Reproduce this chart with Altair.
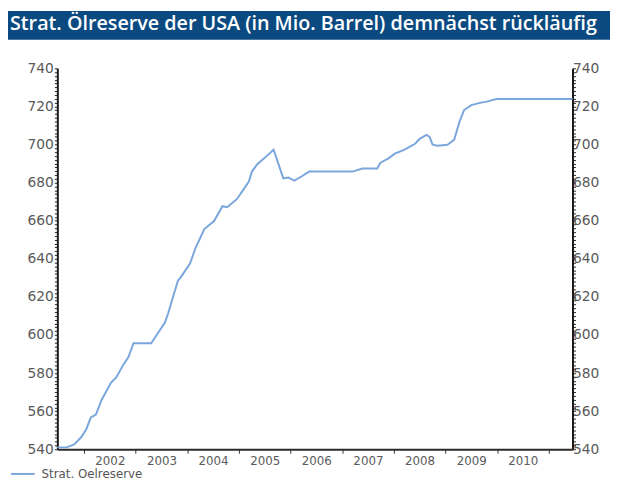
import altair as alt
import pandas as pd

title_text = "Strat. Ölreserve der USA (in Mio. Barrel) demnächst rückläufig"
series_name = "Strat. Oelreserve"

dates = [
    "2001-06-25", "2001-08-29", "2001-10-23", "2001-12-10", "2002-01-15", "2002-02-17",
    "2002-03-25", "2002-05-05", "2002-07-09", "2002-08-18", "2002-10-04", "2002-11-10",
    "2002-12-16", "2003-04-20", "2003-06-06", "2003-07-27", "2003-08-18", "2003-10-26",
    "2003-11-13", "2004-01-19", "2004-02-28", "2004-04-30", "2004-07-08", "2004-09-05",
    "2004-10-08", "2004-12-16", "2005-01-23", "2005-03-11", "2005-04-02", "2005-05-08",
    "2005-06-25", "2005-09-02", "2005-11-10", "2005-12-16", "2006-01-26", "2006-03-18",
    "2006-05-12", "2006-10-27", "2007-03-15", "2007-05-23", "2007-09-06", "2007-09-28",
    "2007-11-21", "2008-01-08", "2008-03-17", "2008-05-30", "2008-07-02", "2008-08-18",
    "2008-09-09", "2008-10-01", "2008-11-06", "2009-01-15", "2009-03-03", "2009-04-09",
    "2009-05-12", "2009-07-02", "2009-09-09", "2009-10-12", "2009-12-27", "2011-06-18",
]
values = [
    541.0, 541.0, 542.6, 546.3, 550.4, 556.7,
    558.2, 566.0, 574.9, 578.0, 584.3, 588.4,
    595.7, 595.7, 600.9, 606.7, 611.4, 628.5,
    630.1, 637.4, 645.7, 655.6, 659.8, 667.6,
    667.1, 671.3, 675.4, 680.6, 685.8, 689.5,
    692.6, 697.3, 682.2, 682.7, 681.1, 683.2,
    685.8, 685.8, 685.8, 687.4, 687.4, 690.5,
    692.6, 695.2, 697.3, 700.4, 703.0, 705.1,
    704.1, 699.9, 699.4, 699.9, 702.5, 711.9,
    718.1, 720.7, 722.0, 722.4, 723.9, 723.9,
]

y_min, y_max = 540, 740
y_minor_ticks = list(range(540, 741, 2))
tick_years = list(range(2002, 2012))

df = pd.DataFrame({"date": dates, "value": values, "series": series_name})
one = pd.DataFrame({"t": [title_text]})

x_scale = alt.Scale(
    type="utc",
    domain=[alt.DateTime(year=2001, month=6, date=25, utc=True),
            alt.DateTime(year=2011, month=6, date=18, utc=True)],
)
y_scale = alt.Scale(domain=[y_min, y_max], nice=False, zero=False)

x_axis = alt.Axis(
    title=None,
    orient="bottom",
    values=[alt.DateTime(year=y, month=1, date=1, utc=True) for y in tick_years],
    labelExpr="utcyear(datum.value) >= 2011 ? '' : utcFormat(datum.value, '%Y')",
    labelOffset=26,
    labelFont="DejaVu Sans",
    labelFontSize=12,
    labelColor="#5a5a5a",
    labelPadding=2,
    tickSize=4,
    tickColor="#333333",
    domainColor="#2a2a2a",
    domainWidth=2,
    grid=False,
    labelFlush=False,
    labelOverlap=False,
)

def y_axis(orient):
    return alt.Axis(
        title=None,
        orient=orient,
        values=y_minor_ticks,
        labelExpr="datum.value % 20 == 0 ? datum.label : ''",
        labelFont="DejaVu Sans",
        labelFontSize=14,
        labelColor="#5a5a5a",
        labelPadding=1 if orient == "left" else -3,
        tickSize=3,
        tickColor="#222222",
        domainColor="#1a1a1a",
        domainWidth=2,
        grid=False,
        labelOverlap=False,
        labelFlush=False,
    )

line = alt.Chart(df).mark_line(strokeWidth=2).encode(
    x=alt.X("date:T", scale=x_scale, axis=x_axis),
    y=alt.Y("value:Q", scale=y_scale, axis=y_axis("left")),
    color=alt.Color(
        "series:N",
        scale=alt.Scale(domain=[series_name], range=["#7aa6dc"]),
        legend=alt.Legend(
            title=None,
            orient="none",
            legendX=-48,
            legendY=398,
            symbolType="stroke",
            symbolSize=576,
            symbolStrokeWidth=2,
            labelFont="DejaVu Sans",
            labelFontSize=12,
            labelColor="#555555",
            labelOffset=6,
            padding=0,
        ),
    ),
)

line_right = alt.Chart(df).mark_line(strokeOpacity=0).encode(
    x=alt.X("date:T", scale=x_scale, axis=x_axis),
    y=alt.Y("value:Q", scale=y_scale, axis=y_axis("right")),
)

bar = alt.Chart(one).mark_rect(color="#0b4a80").encode(
    x=alt.value(-50), x2=alt.value(560), y=alt.value(-58), y2=alt.value(-29)
)
title = alt.Chart(one).mark_text(
    align="left", baseline="middle", color="white",
    font="Open Sans", fontSize=20, fontWeight=600,
).encode(text="t:N", x=alt.value(-48), y=alt.value(-45))

chart = alt.layer(bar, title, line, line_right).resolve_scale(
    y="independent"
).properties(
    width=522, height=386,
    autosize=alt.AutoSizeParams(type="none"),
    padding={"left": 50, "top": 58, "right": 38, "bottom": 28},
).configure_view(stroke=None)

chart.save("out.html", embed_options={"renderer": "svg", "actions": False})
